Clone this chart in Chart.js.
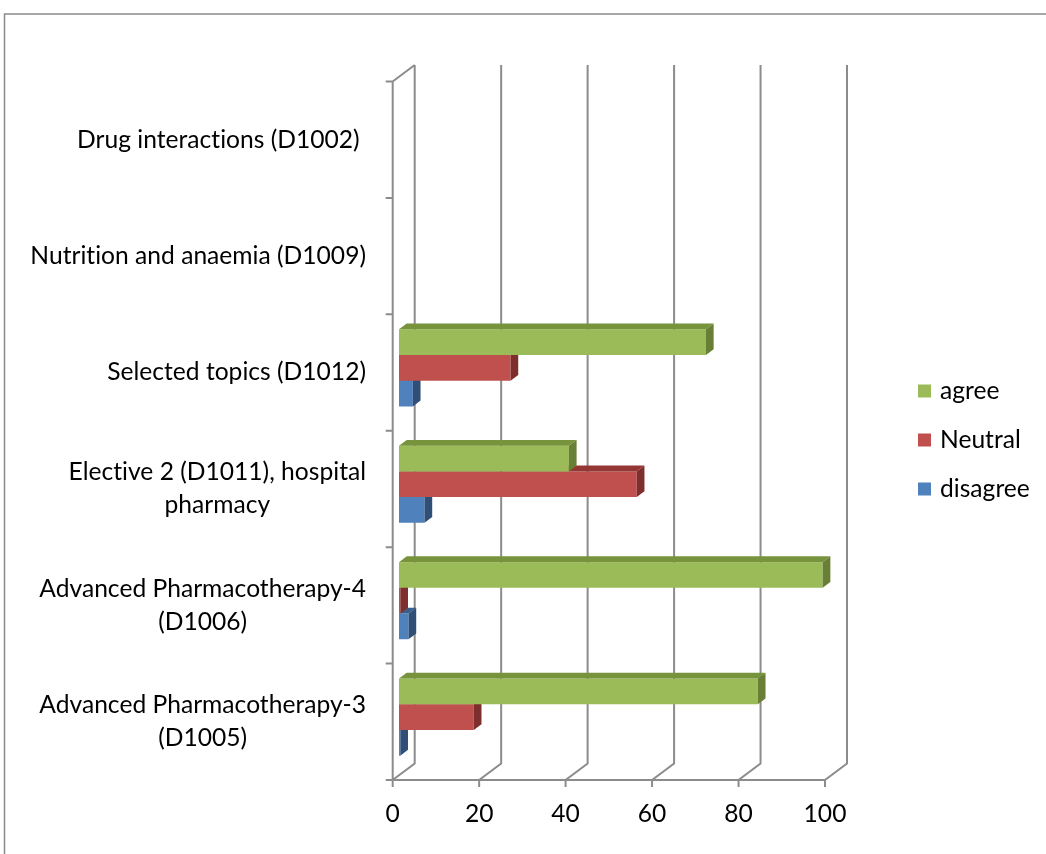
<!DOCTYPE html>
<html>
<head>
<meta charset="utf-8">
<script src="https://cdn.jsdelivr.net/npm/chart.js@4.4.1/dist/chart.umd.min.js"></script>
<style>
  html, body { margin: 0; padding: 0; background: #fff; }
  canvas { display: block; }
</style>
</head>
<body>
<canvas id="chart" width="1046" height="854"></canvas>
<script>
// categories top to bottom, as shown on the axis
const categories = [
  "Drug interactions (D1002) ",
  "Nutrition and anaemia (D1009)",
  "Selected topics (D1012)",
  ["Elective 2 (D1011), hospital", "pharmacy"],
  ["Advanced Pharmacotherapy-4", "(D1006)"],
  ["Advanced Pharmacotherapy-3", "(D1005)"]
];
const agree    = [null, null, 71, 39.3, 98, 83];
const neutral  = [null, null, 25.8, 55, 0.3, 17.3];
const disagree = [null, null, 3.2, 5.9, 2.2, 0.3];
const xTicks = [0, 20, 40, 60, 80, 100];

// 3d look: offsets of the front / back planes from the bar plane
const FRONT = { dx: -6.3, dy: 4.7 };
const BACK = { dx: 15.7, dy: -11.8 };
const DEPTH = { dx: 7.7, dy: -5.8 };
const SHADE = [
  { top: "#77933c", side: "#687f35" },
  { top: "#943634", side: "#7e2f2d" },
  { top: "#3a5f8d", side: "#2f4f77" }
];
const FONT = "24.6px Lato";

const look3d = {
  id: "look3d",
  beforeDraw(chart) {
    const ctx = chart.ctx;
    ctx.save();
    ctx.strokeStyle = "#8a8a8a";
    ctx.lineWidth = 1.5;
    ctx.beginPath();
    ctx.moveTo(4.5, 854);
    ctx.lineTo(4.5, 14);
    ctx.lineTo(1046, 14);
    ctx.stroke();
    ctx.restore();
    ctx.textRendering = "optimizeSpeed";
    ctx.letterSpacing = "0.01px";
  },
  beforeDatasetsDraw(chart) {
    const ctx = chart.ctx;
    const xs = chart.scales.x, ys = chart.scales.y;
    const { top, bottom, left, right } = chart.chartArea;
    ctx.save();
    ctx.strokeStyle = "#8c8c8c";
    ctx.lineWidth = 2;
    ctx.beginPath();
    for (const v of xTicks) {
      const px = xs.getPixelForValue(v);
      ctx.moveTo(px + BACK.dx, top + BACK.dy);
      ctx.lineTo(px + BACK.dx, bottom + BACK.dy);
      ctx.lineTo(px + FRONT.dx, bottom + FRONT.dy);
      ctx.lineTo(px + FRONT.dx, bottom + FRONT.dy + 7);
    }
    // front floor edge and left wall
    ctx.moveTo(left + FRONT.dx - 7, bottom + FRONT.dy);
    ctx.lineTo(right + FRONT.dx, bottom + FRONT.dy);
    ctx.moveTo(left + FRONT.dx, bottom + FRONT.dy);
    ctx.lineTo(left + FRONT.dx, top + FRONT.dy);
    ctx.lineTo(left + BACK.dx, top + BACK.dy);
    // category ticks
    const n = categories.length;
    const step = (ys.getPixelForValue(1) - ys.getPixelForValue(0));
    for (let i = 0; i <= n; i++) {
      const yb = ys.getPixelForValue(0) - step / 2 + i * step + FRONT.dy;
      ctx.moveTo(left + FRONT.dx - 7, yb);
      ctx.lineTo(left + FRONT.dx, yb);
    }
    ctx.stroke();

    // category labels
    ctx.fillStyle = "#000";
    ctx.font = FONT;
    ctx.textRendering = "optimizeSpeed";
    ctx.letterSpacing = "0.01px";
    ctx.textBaseline = "middle";
    ctx.textAlign = "center";
    categories.forEach((lab, i) => {
      const lines = Array.isArray(lab) ? lab : [lab];
      const w = Math.max(...lines.map(l => ctx.measureText(l).width));
      const cy = ys.getPixelForValue(i) + FRONT.dy;
      lines.forEach((l, j) => {
        ctx.fillText(l, 366 - w / 2, cy + (j - (lines.length - 1) / 2) * 33);
      });
    });

    // legend
    const legY = [391, 440, 489];
    ctx.textAlign = "left";
    chart.data.datasets.forEach((ds, i) => {
      ctx.fillStyle = ds.backgroundColor;
      ctx.fillRect(918, legY[i] - 6.5, 13, 13);
      ctx.fillStyle = "#000";
      ctx.fillText(ds.label, 940, legY[i]);
    });
    ctx.restore();
  },
  afterDatasetDraw(chart, args) {
    const ctx = chart.ctx;
    const sh = SHADE[args.index];
    const values = chart.data.datasets[args.index].data;
    ctx.save();
    args.meta.data.forEach((el, i) => {
      if (values[i] == null) return;
      const p = el.getProps(["x", "y", "base", "height"], true);
      const t = p.y - p.height / 2, b = p.y + p.height / 2;
      ctx.fillStyle = sh.top;
      ctx.beginPath();
      ctx.moveTo(p.base, t);
      ctx.lineTo(p.x, t);
      ctx.lineTo(p.x + DEPTH.dx, t + DEPTH.dy);
      ctx.lineTo(p.base + DEPTH.dx, t + DEPTH.dy);
      ctx.closePath();
      ctx.fill();
      ctx.fillStyle = sh.side;
      ctx.beginPath();
      ctx.moveTo(p.x, t);
      ctx.lineTo(p.x + DEPTH.dx, t + DEPTH.dy);
      ctx.lineTo(p.x + DEPTH.dx, b + DEPTH.dy);
      ctx.lineTo(p.x, b);
      ctx.closePath();
      ctx.fill();
    });
    ctx.restore();
  }
};

Chart.defaults.font.family = "Lato";
Chart.defaults.font.size = 24.6;
Chart.defaults.color = "#000";

new Chart(document.getElementById("chart").getContext("2d"), {
  type: "bar",
  data: {
    labels: categories,
    datasets: [
      { label: "agree", data: agree, backgroundColor: "#9bbb59" },
      { label: "Neutral", data: neutral, backgroundColor: "#c0504d" },
      { label: "disagree", data: disagree, backgroundColor: "#4f81bd" }
    ]
  },
  options: {
    indexAxis: "y",
    responsive: false,
    animation: false,
    devicePixelRatio: 1,
    layout: { padding: { left: 399, top: 76.8, right: 214.7, bottom: 8.7 } },
    datasets: { bar: { barPercentage: 1, categoryPercentage: 0.662, borderWidth: 0 } },
    scales: {
      x: {
        min: 0, max: 100,
        grid: { display: false, drawTicks: false },
        border: { display: false },
        ticks: { stepSize: 20, labelOffset: FRONT.dx, padding: 24, color: "#000" },
        afterFit(s) { s.height = 70; }
      },
      y: {
        grid: { display: false, drawTicks: false },
        border: { display: false },
        ticks: { display: false },
        afterFit(s) { s.width = 0; }
      }
    },
    plugins: { legend: { display: false }, tooltip: { enabled: false } }
  },
  plugins: [look3d]
});
</script>
</body>
</html>
